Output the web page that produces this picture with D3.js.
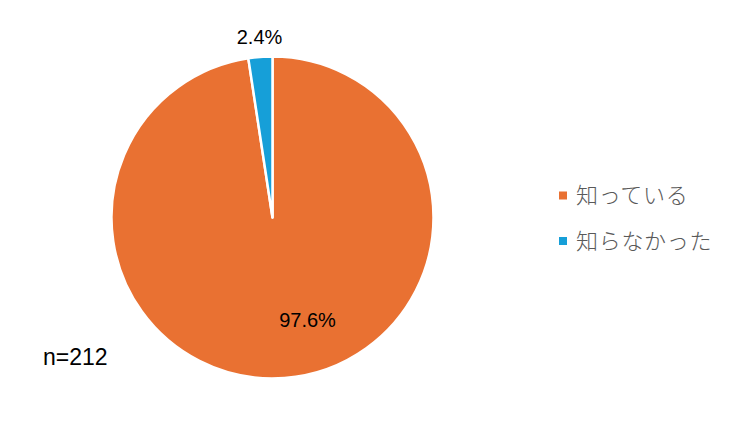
<!DOCTYPE html>
<html>
<head>
<meta charset="utf-8">
<script src="https://cdn.jsdelivr.net/npm/d3@7"></script>
<style>
  body { margin: 0; background: #fff; }
  text { font-family: "Liberation Sans", Arial, sans-serif; }
  .legend text { font-family: "Noto Sans CJK JP", sans-serif; font-weight: 300; letter-spacing: 0.7px; }
</style>
</head>
<body>
<script>
const categories = ["知っている", "知らなかった"];
const values = [97.6, 2.4];
const labels = ["97.6%", "2.4%"];
const colors = ["#E97132", "#169FD8"];
const sampleNote = "n=212";

const width = 741, height = 436;
const cx = 272.5, cy = 217.5, radius = 161;

const svg = d3.select("body").append("svg")
  .attr("width", width).attr("height", height);

const pie = d3.pie().sort(null).value(d => d)(values);
const arc = d3.arc().innerRadius(0).outerRadius(radius);

const g = svg.append("g").attr("transform", "translate(" + cx + "," + cy + ")");

g.selectAll("path")
  .data(pie)
  .enter().append("path")
  .attr("d", arc)
  .attr("fill", (d, i) => colors[i])
  .attr("stroke", "#fff")
  .attr("stroke-width", 2.5)
  .attr("stroke-linejoin", "round");

// data labels: big slice inside, small slice outside
const labelPos = [
  [35, 109],
  [-13, -174]
];
g.selectAll("text.lbl")
  .data(pie)
  .enter().append("text")
  .attr("class", "lbl")
  .attr("x", (d, i) => labelPos[i][0])
  .attr("y", (d, i) => labelPos[i][1])
  .attr("text-anchor", "middle")
  .attr("font-size", 20)
  .attr("fill", "#000")
  .text((d, i) => labels[i]);

const legend = svg.append("g").attr("class", "legend")
  .attr("transform", "translate(559,0)");
const rows = legend.selectAll("g")
  .data(categories)
  .enter().append("g")
  .attr("transform", (d, i) => "translate(0," + (195.5 + i * 45.5) + ")");
rows.append("rect")
  .attr("x", 0).attr("y", -4)
  .attr("width", 8).attr("height", 8)
  .attr("fill", (d, i) => colors[i]);
rows.append("text")
  .attr("x", 17).attr("y", 0)
  .attr("dy", "0.36em")
  .attr("font-size", 22)
  .attr("fill", "#595959")
  .text(d => d);

svg.append("text")
  .attr("x", 43).attr("y", 365)
  .attr("font-size", 23)
  .attr("fill", "#000")
  .text(sampleNote);
</script>
</body>
</html>
